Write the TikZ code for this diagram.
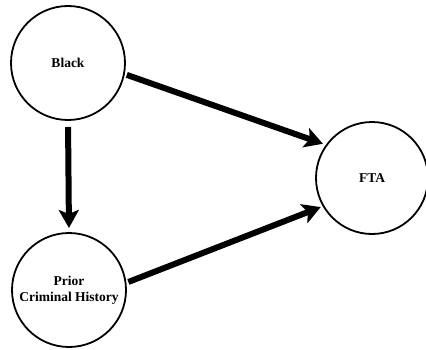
\documentclass[tikz,border=0pt]{standalone}
\usepackage{fontspec}
\setmainfont{Liberation Serif}
\usetikzlibrary{arrows.meta}
\begin{document}
\begin{tikzpicture}[x=1pt,y=1pt,
  var/.style={circle,draw,line width=1.8pt,outer sep=0pt,inner sep=0pt,
    font=\fontsize{13.5}{16}\selectfont\bfseries,align=center},
  arr/.style={line width=6pt,-{Stealth[length=18pt,width=20pt,inset=4pt]}}]
\useasboundingbox (0,0) rectangle (426,349);
\node[var,minimum size=114pt] (black) at (68,286) {Black};
\node[var,minimum size=114pt] (prior) at (69,59) {Prior\\Criminal History};
\node[var,minimum size=112pt] (fta) at (372,171) {FTA};
\draw[arr,shorten <=7pt,shorten >=5pt] (black.south) -- (prior.north);
\draw[arr,shorten <=3pt,shorten >=4pt] (black.-11.5) -- (fta.144.5);
\draw[arr,shorten <=3pt,shorten >=3pt] (prior.7.7) -- (fta.210);
\end{tikzpicture}
\end{document}
